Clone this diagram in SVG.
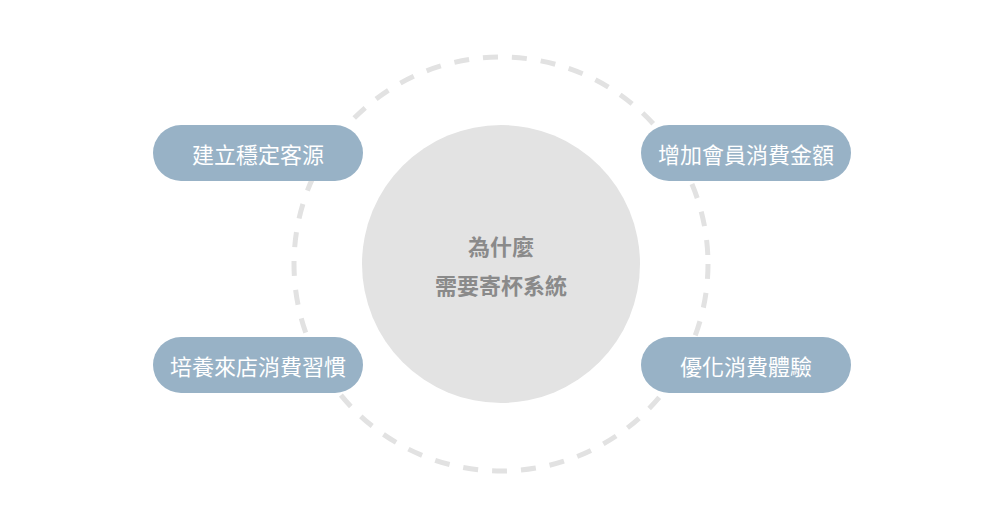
<svg xmlns="http://www.w3.org/2000/svg" width="1000" height="529" viewBox="0 0 1000 529">
<style>
.pill{fill:#98b2c6}
.pt{font-family:"Noto Sans CJK TC","Noto Sans CJK SC",sans-serif;font-size:22px;fill:#ffffff;text-anchor:middle;dominant-baseline:central}
.ct{font-family:"Noto Sans CJK TC","Noto Sans CJK SC",sans-serif;font-size:22px;font-weight:bold;fill:#8a8a8a;text-anchor:middle;dominant-baseline:central}
</style>
<rect width="1000" height="529" fill="#ffffff"/>
<g id="connectors">
<circle cx="501" cy="264" r="207" fill="none" stroke="#e2e2e2" stroke-width="5" stroke-dasharray="15 14"/>
</g>
<g id="center">
<circle cx="501" cy="264" r="139" fill="#e3e3e3"/>
<text class="ct" x="501" y="245">為什麼</text>
<text class="ct" x="501" y="284">需要寄杯系統</text>
</g>
<g id="n1">
<rect class="pill" x="153" y="125" width="210" height="56" rx="28"/>
<text class="pt" x="258" y="153">建立穩定客源</text>
</g>
<g id="n2">
<rect class="pill" x="641" y="125" width="210" height="56" rx="28"/>
<text class="pt" x="746" y="153">增加會員消費金額</text>
</g>
<g id="n3">
<rect class="pill" x="153" y="337" width="210" height="56" rx="28"/>
<text class="pt" x="258" y="365">培養來店消費習慣</text>
</g>
<g id="n4">
<rect class="pill" x="641" y="337" width="210" height="56" rx="28"/>
<text class="pt" x="746" y="365">優化消費體驗</text>
</g>
</svg>
